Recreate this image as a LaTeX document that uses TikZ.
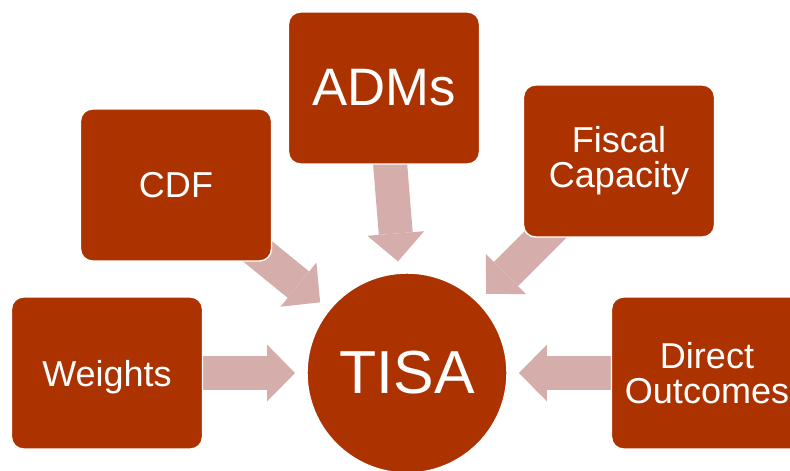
\documentclass[tikz,border=0pt]{standalone}
\usepackage{fontspec}
\setmainfont{Liberation Sans}
\usetikzlibrary{arrows.meta, calc, backgrounds}
\definecolor{crust}{HTML}{AC3200}
\definecolor{cpink}{HTML}{D5AEAB}
\tikzset{
  box/.style={fill=crust, draw=white, line width=0.8pt, rounded corners=0.24cm, text=white, align=center,
    inner sep=0pt, minimum width=3.82cm, minimum height=3.04cm, font=\fontsize{20.5}{20}\selectfont},
  hub/.style={circle, fill=crust, draw=white, line width=0.8pt, text=white, inner sep=0pt,
    minimum size=4cm, font=\fontsize{34.6}{36}\selectfont},
  flow/.style={draw=cpink, line width=0.68cm, -{Triangle[length=0.56cm, width=1.14cm, line width=0pt]}},
}

\begin{document}
\begin{tikzpicture}[x=0.02cm, y=-0.02cm]
  \useasboundingbox (0,0) rectangle (790,470);
  \clip (0,0) rectangle (790,470);
  \node[hub] (tisa) at (407,373) {TISA};
  \node[box, text depth=0pt] (weights) at (107,373) {Weights};
  \node[box] (cdf) at (176,185) {CDF};
  \node[box, font=\fontsize{30}{32}\selectfont] (adms) at (384,88) {ADMs};
  \node[box] (fiscal) at (619,161) {Fiscal\\Capacity};
  \node[box] (direct) at (707,373) {Direct\\Outcomes};
  % block arrows run from under each box
  \begin{scope}[on background layer]
    \foreach \src in {weights, cdf, adms, fiscal, direct}
      \draw[flow] (\src.center) -- ($(tisa.center)!2.24cm!(\src.center)$);
  \end{scope}
\end{tikzpicture}
\end{document}
